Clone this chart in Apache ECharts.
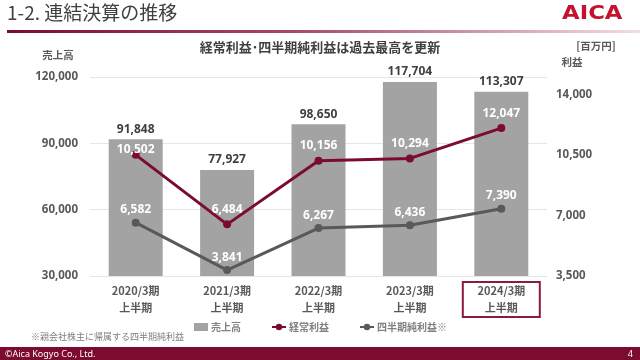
<!DOCTYPE html>
<html>
<head>
<meta charset="utf-8">
<script src="https://cdn.jsdelivr.net/npm/echarts@6/dist/echarts.min.js"></script>
<style>
html,body{margin:0;padding:0;background:#fff;}
#c{width:640px;height:360px;}
</style>
</head>
<body>
<div id="c"></div>
<script>
// ---- data ----
var categories = ['2020/3期', '2021/3期', '2022/3期', '2023/3期', '2024/3期'];
var periodLabel = '上半期';
var sales = [91848, 77927, 98650, 117704, 113307];          // 売上高
var ordinaryProfit = [10502, 6484, 10156, 10294, 12047];     // 経常利益
var netProfit = [6582, 3841, 6267, 6436, 7390];              // 四半期純利益※
var seriesNames = ['売上高', '経常利益', '四半期純利益※'];
var leftTicks = [30000, 60000, 90000, 120000];
var rightTicks = [3500, 7000, 10500, 14000];

var FONT = '"Noto Sans", "Noto Sans CJK JP", sans-serif';
var FONTJ = '"Noto Sans CJK JP", "Noto Sans", sans-serif';
var fmt = function (v) { return v.toLocaleString('en-US'); };

var chart = echarts.init(document.getElementById('c'), null, {renderer: 'canvas'});

var ordData = ordinaryProfit.map(function (v, i) {
  return i === 0 ? {value: v, label: {offset: [0, 10]}} : v;
});

var option = {
  animation: false,
  backgroundColor: '#ffffff',
  textStyle: {fontFamily: FONTJ},
  grid: {left: 90, right: 93, top: 77, bottom: 84},
  legend: {
    left: 189, top: 317,
    itemGap: 30, itemWidth: 14, itemHeight: 8,
    textStyle: {fontFamily: FONTJ, fontSize: 10, fontWeight: 'bold', color: '#808080', padding: [0, 0, 0, -2]},
    data: [
      {name: seriesNames[0], icon: 'rect', itemStyle: {color: '#a3a3a3'}},
      {name: seriesNames[1]},
      {name: seriesNames[2]}
    ]
  },
  xAxis: {
    type: 'category',
    data: categories,
    axisLine: {show: false},
    axisTick: {show: false},
    axisLabel: {
      margin: 6,
      fontFamily: FONTJ, fontSize: 11, fontWeight: 'bold', color: '#595959',
      lineHeight: 17,
      formatter: function (v) { return v + '\n' + periodLabel; }
    }
  },
  yAxis: [
    {
      type: 'value', min: leftTicks[0], max: leftTicks[leftTicks.length - 1], interval: 30000,
      axisLine: {show: false}, axisTick: {show: false},
      splitLine: {lineStyle: {color: '#e6e6e6', width: 1}},
      axisLabel: {margin: 12, fontFamily: FONT, fontSize: 11.5, fontWeight: 'bold', color: '#595959',
        formatter: function (v) { return leftTicks.indexOf(v) >= 0 ? fmt(v) : ''; }}
    },
    {
      type: 'value', min: rightTicks[0], max: 15000, interval: 3500,
      axisLine: {show: false}, axisTick: {show: false}, splitLine: {show: false},
      axisLabel: {margin: 9, fontFamily: FONT, fontSize: 11.5, fontWeight: 'bold', color: '#595959',
        formatter: function (v) { return rightTicks.indexOf(v) >= 0 ? fmt(v) : ''; }}
    }
  ],
  series: [
    {
      name: seriesNames[0], type: 'bar', data: sales, yAxisIndex: 0,
      barWidth: 54,
      itemStyle: {color: '#a3a3a3'},
      label: {show: true, position: 'top', distance: 4, fontFamily: FONT, fontSize: 12, fontWeight: 'bold',
        color: '#404040', formatter: function (p) { return fmt(p.value); }}
    },
    {
      name: seriesNames[1], type: 'line', data: ordData, yAxisIndex: 1,
      symbol: 'circle', symbolSize: 8,
      lineStyle: {color: '#7b0c2e', width: 3},
      itemStyle: {color: '#7b0c2e'},
      label: {show: true, position: 'top', distance: 5, fontFamily: FONT, fontSize: 12, fontWeight: 'bold',
        color: '#ffffff', formatter: function (p) { return fmt(p.value); }},
      z: 5
    },
    {
      name: seriesNames[2], type: 'line', data: netProfit, yAxisIndex: 1,
      symbol: 'circle', symbolSize: 8,
      lineStyle: {color: '#595959', width: 3},
      itemStyle: {color: '#595959'},
      label: {show: true, position: 'top', distance: 3, fontFamily: FONT, fontSize: 12, fontWeight: 'bold',
        color: '#ffffff', formatter: function (p) { return fmt(p.value); }},
      z: 5
    }
  ]
};
chart.setOption(option);

// highlight box around the latest category label, positioned from the axis
var cx = chart.convertToPixel({xAxisIndex: 0}, categories[categories.length - 1]);

chart.setOption({
  graphic: [
    // title
    {type: 'text', left: 7, top: 3, style: {text: '1-2. 連結決算の推移', fontFamily: FONTJ, fontSize: 19, fill: '#404040'}},
    {type: 'rect', shape: {x: 7, y: 30, width: 633, height: 3},
      style: {fill: new echarts.graphic.LinearGradient(0, 0, 1, 0, [
        {offset: 0, color: '#7b0c2e'}, {offset: 0.45, color: '#a34a66'}, {offset: 1, color: '#f3dde4'}])}},
    // logo
    {type: 'text', x: 562, y: 5, scaleX: 1.2, style: {text: 'AICA', fontFamily: '"DejaVu Sans", sans-serif', fontSize: 19, fontWeight: 'bold', fill: '#c4122f'}},
    // subtitle
    {type: 'text', x: 320, y: 47, style: {text: '経常利益･四半期純利益は過去最高を更新', fontFamily: FONTJ, fontSize: 13, fontWeight: 'bold', fill: '#404040', align: 'center', verticalAlign: 'middle'}},
    {type: 'text', x: 596, y: 46, style: {text: '[百万円]', fontFamily: FONTJ, fontSize: 10.5, fontWeight: 'bold', fill: '#595959', align: 'center', verticalAlign: 'middle'}},
    {type: 'text', x: 572, y: 62, style: {text: '利益', fontFamily: FONTJ, fontSize: 10.5, fontWeight: 'bold', fill: '#595959', align: 'center', verticalAlign: 'middle'}},
    {type: 'text', x: 58, y: 55, style: {text: '売上高', fontFamily: FONTJ, fontSize: 10.5, fontWeight: 'bold', fill: '#595959', align: 'center', verticalAlign: 'middle'}},
    // highlight box
    {type: 'rect', shape: {x: cx - 38.5, y: 282, width: 77, height: 35},
      style: {fill: 'none', stroke: '#8b1a3c', lineWidth: 2}},
    // note
    {type: 'text', x: 31, y: 337, style: {text: '※親会社株主に帰属する四半期純利益', fontFamily: FONTJ, fontSize: 9, fill: '#7f7f7f', verticalAlign: 'middle'}},
    // footer
    {type: 'rect', shape: {x: 0, y: 347, width: 640, height: 13}, style: {fill: '#7b0c2e'}},
    {type: 'text', x: 5, y: 354, style: {text: '©Aica Kogyo Co., Ltd.', fontFamily: FONT, fontSize: 9, fill: '#ffffff', verticalAlign: 'middle'}},
    {type: 'text', x: 633, y: 354, style: {text: '4', fontFamily: FONT, fontSize: 9, fill: '#ffffff', align: 'right', verticalAlign: 'middle'}}
  ]
});
</script>
</body>
</html>
